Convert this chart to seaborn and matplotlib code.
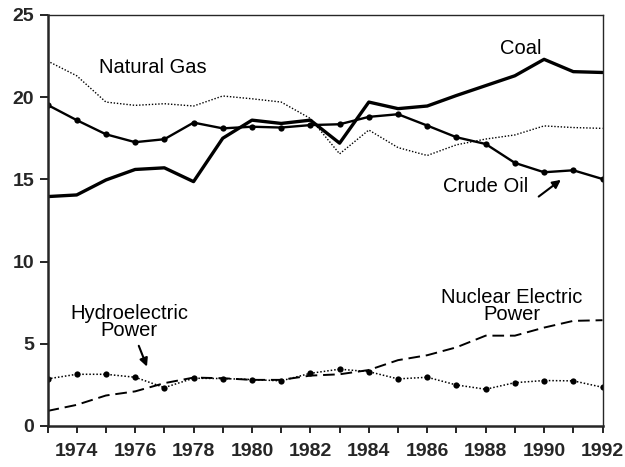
import numpy as np
import pandas as pd
import matplotlib
matplotlib.use("Agg")
import matplotlib.pyplot as plt
import seaborn as sns

years = list(range(1973, 1993))

coal = [13.95, 14.05, 14.96, 15.6, 15.7, 14.86, 17.5, 18.6, 18.4, 18.6,
        17.2, 19.7, 19.3, 19.46, 20.1, 20.7, 21.3, 22.3, 21.55, 21.5]
crude_oil = [19.53, 18.6, 17.74, 17.26, 17.44, 18.45, 18.1, 18.2, 18.15, 18.3,
             18.35, 18.8, 18.96, 18.27, 17.56, 17.15, 16.0, 15.43, 15.55, 15.02]
natural_gas = [22.2, 21.3, 19.7, 19.5, 19.6, 19.46, 20.07, 19.9, 19.7, 18.7,
               16.55, 18.0, 16.93, 16.45, 17.1, 17.45, 17.7, 18.25, 18.15, 18.1]
hydro = [2.86, 3.14, 3.14, 2.96, 2.33, 2.9, 2.88, 2.82, 2.74, 3.2,
         3.45, 3.3, 2.86, 2.96, 2.49, 2.23, 2.63, 2.76, 2.74, 2.35]
nuclear = [0.91, 1.28, 1.85, 2.1, 2.6, 2.94, 2.9, 2.8, 2.8, 3.06,
           3.14, 3.4, 4.0, 4.3, 4.78, 5.49, 5.49, 5.98, 6.39, 6.43]

df = pd.DataFrame({"Year": years, "Coal": coal, "Crude Oil": crude_oil,
                   "Natural Gas": natural_gas, "Hydro": hydro, "Nuclear": nuclear})

sns.set_style("ticks")
plt.rcParams['font.family'] = ['Liberation Sans', 'DejaVu Sans']

fig = plt.figure(figsize=(6.25, 4.67), dpi=100)
ax = fig.add_axes([0.076, 0.088, 0.888, 0.880])

k = "black"
sns.lineplot(data=df, x="Year", y="Natural Gas", ax=ax, color=k, lw=1.0,
             linestyle=(0, (1, 1.3)))
sns.lineplot(data=df, x="Year", y="Coal", ax=ax, color=k, lw=2.4)
sns.lineplot(data=df, x="Year", y="Crude Oil", ax=ax, color=k, lw=1.7,
             marker="o", markersize=4.5, markeredgewidth=0)
sns.lineplot(data=df, x="Year", y="Nuclear", ax=ax, color=k, lw=1.4,
             linestyle=(0, (6, 3)))
sns.lineplot(data=df, x="Year", y="Hydro", ax=ax, color=k, lw=1.1,
             linestyle=(0, (1, 1.3)), marker="o", markersize=4.5, markeredgewidth=0)

ax.set_xlim(1973, 1992)
ax.set_ylim(0, 25)
ax.set_xticks(years, minor=True)
ax.set_xticks(list(range(1974, 1993, 2)))
ax.set_yticks([0, 5, 10, 15, 20, 25])
ax.set_xlabel("")
ax.set_ylabel("")
ax.tick_params(axis="both", which="both", direction="out", color=k, width=1.2)
ax.tick_params(axis="x", which="major", length=5, labelsize=14, pad=7)
ax.tick_params(axis="x", which="minor", length=5)
ax.tick_params(axis="y", length=6, labelsize=14)
for lab in ax.get_xticklabels() + ax.get_yticklabels():
    lab.set_fontweight("bold")
for s in ["left", "bottom"]:
    ax.spines[s].set_linewidth(1.8)
for s in ["top", "right"]:
    ax.spines[s].set_linewidth(1.0)
    ax.spines[s].set_visible(True)

# series labels
txt = dict(fontsize=14.5, ha="center", va="center", color=k)
ax.text(1976.6, 21.8, "Natural Gas", **txt)
ax.text(1989.2, 22.97, "Coal", **txt)
ax.text(1988.0, 14.56, "Crude Oil", **txt)
ax.text(1975.8, 6.3, "Hydroelectric\nPower", linespacing=0.85, **txt)
ax.text(1988.9, 7.3, "Nuclear Electric\nPower", linespacing=0.85, **txt)

arrow = dict(arrowstyle="-|>", color=k, lw=1.5, mutation_scale=12)
ax.annotate("", xy=(1990.65, 15.07), xytext=(1989.74, 13.85), arrowprops=arrow)
ax.annotate("", xy=(1976.44, 3.45), xytext=(1976.09, 5.03), arrowprops=arrow)

fig.savefig("out.png", dpi=100)
